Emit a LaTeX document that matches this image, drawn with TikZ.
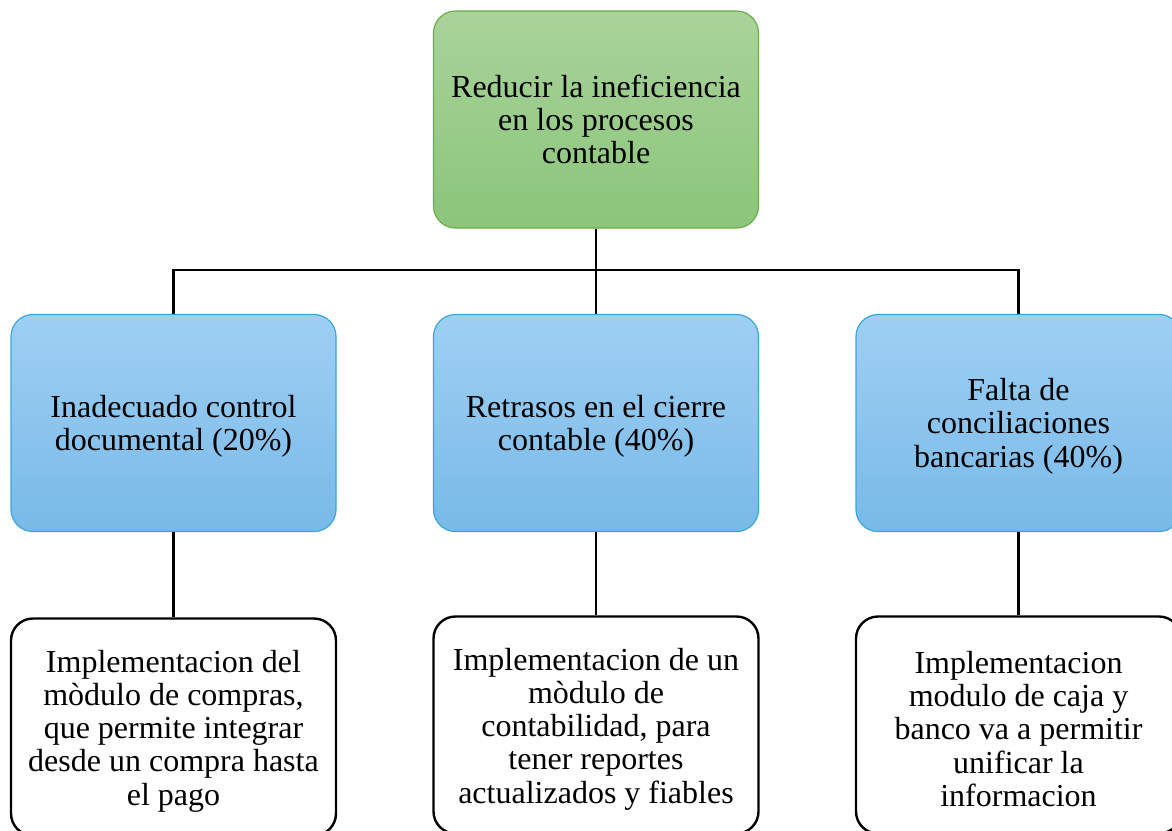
\documentclass[tikz,border=0pt]{standalone}
\usepackage{fontspec}
\setmainfont{Liberation Serif}
\definecolor{gtop}{HTML}{A9D39A}
\definecolor{gbot}{HTML}{8BC57B}
\definecolor{gline}{HTML}{6AAF45}
\definecolor{btop}{HTML}{9FCFF3}
\definecolor{bbot}{HTML}{78BAE8}
\definecolor{bline}{HTML}{3AA6DC}
\tikzset{
  boxbase/.style={rounded corners=22pt, minimum width=325pt, minimum height=217pt, inner sep=0pt},
  goalbox/.style={boxbase, draw=gline, line width=1.2pt, top color=gtop, bottom color=gbot},
  causebox/.style={boxbase, draw=bline, line width=1.2pt, top color=btop, bottom color=bbot},
  solbox/.style={boxbase, draw=black, line width=2.4pt, fill=white},
  txt/.style={inner sep=0pt, align=center, font=\fontsize{32}{33.3}\selectfont},
  conn/.style={draw=black, line width=2.8pt}
}
\begin{document}
\begin{tikzpicture}[x=1pt,y=-1pt]
\useasboundingbox (0,0) rectangle (1172,830);
\clip (0,0) rectangle (1172,830);
\fill[white] (0,0) rectangle (1172,830);
\node[goalbox] (goal) at (596,119.5) {};
\node[causebox] (c1) at (173.5,423) {};
\node[causebox] (c2) at (596,423) {};
\node[causebox] (c3) at (1018.5,423) {};
\node[solbox] (s1) at (173.5,727) {};
\node[solbox] (s2) at (596,725) {};
\node[solbox] (s3) at (1018.5,725) {};
\node[txt] (goalt) at (goal.center) {Reducir la ineficiencia\\en los procesos\\contable};
\node[txt] (c1t) at ([yshift=-3pt]c1.center) {Inadecuado control\\documental (20\%)};
\node[txt] (c2t) at ([yshift=-3pt]c2.center) {Retrasos en el cierre\\contable (40\%)};
\node[txt] (c3t) at ([yshift=-3pt]c3.center) {Falta de\\conciliaciones\\bancarias (40\%)};
\node[txt] (s1t) at ([yshift=-4pt]s1.center) {Implementacion del\\mòdulo de compras,\\que permite integrar\\desde un compra hasta\\el pago};
\node[txt] (s2t) at ([yshift=-4pt]s2.center) {Implementacion de un\\mòdulo de\\contabilidad, para\\tener reportes\\actualizados y fiables};
\node[txt] (s3t) at ([yshift=-4pt]s3.center) {Implementacion\\modulo de caja y\\banco va a permitir\\unificar la\\informacion};
\draw[conn] (goal.south) -- (c2.north);
\draw[conn] (c1.north) -- ++(0,-44) -| (c3.north);
\draw[conn] (c1.south) -- (s1.north);
\draw[conn] (c2.south) -- (s2.north);
\draw[conn] (c3.south) -- (s3.north);
\end{tikzpicture}
\end{document}
